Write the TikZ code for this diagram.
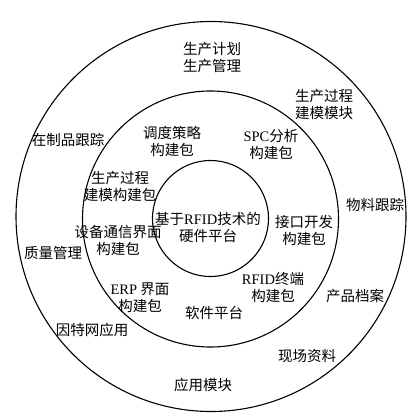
\documentclass[tikz,border=0pt]{standalone}
\usepackage{fontspec}
\setmainfont{Liberation Serif}
\newfontfamily\cjk{Noto Sans CJK SC}
\newcommand\latn[1]{{\rmfamily #1}}
\begin{document}
\begin{tikzpicture}[x=1pt,y=-1pt,
  ring/.style={draw=black,line width=1.1pt,circle,inner sep=0pt},
  lbl/.style={inner sep=0pt,align=center,font=\cjk\fontsize{14.5}{17}\selectfont}]
\useasboundingbox (0,0) rectangle (417,417);
\fill[white] (0,0) rectangle (417,417);
\node[ring,minimum size=390pt] (outer) at (211,216.5) {};
\node[ring,minimum size=256pt] (middle) at (210.5,219) {};
\node[ring,minimum size=116pt] (inner) at (210.5,218.5) {};
% outer ring labels
\node[lbl] (plan) at (212,58) {生产计划\\生产管理};
\node[lbl] (model) at (324,104) {生产过程\\建模模块};
\node[lbl] (wip) at (68,140) {在制品跟踪};
\node[lbl] (material) at (375,205) {物料跟踪};
\node[lbl] (quality) at (53,253) {质量管理};
\node[lbl] (archive) at (355,296) {产品档案};
\node[lbl] (internet) at (92,330) {因特网应用};
\node[lbl] (field) at (307,356) {现场资料};
\node[lbl] (appmod) at (203,385) {应用模块};
% middle ring labels
\node[lbl] (sched) at (172,141) {调度策略\\构建包};
\node[lbl] (spc) at (271,144) {\latn{SPC}分析\\构建包};
\node[lbl] (procpkg) at (120,186) {生产过程\\建模构建包};
\node[lbl] (iface) at (304,230) {接口开发\\构建包};
\node[lbl] (comm) at (118,240) {设备通信界面\\构建包};
\node[lbl] (rfidterm) at (273,287) {\latn{RFID}终端\\构建包};
\node[lbl] (erp) at (140,298) {\latn{ERP} 界面\\构建包};
\node[lbl] (soft) at (214,313) {软件平台};
% inner label
\node[lbl] (hw) at (208,227) {基于\latn{RFID}技术的\\硬件平台};
\end{tikzpicture}
\end{document}
